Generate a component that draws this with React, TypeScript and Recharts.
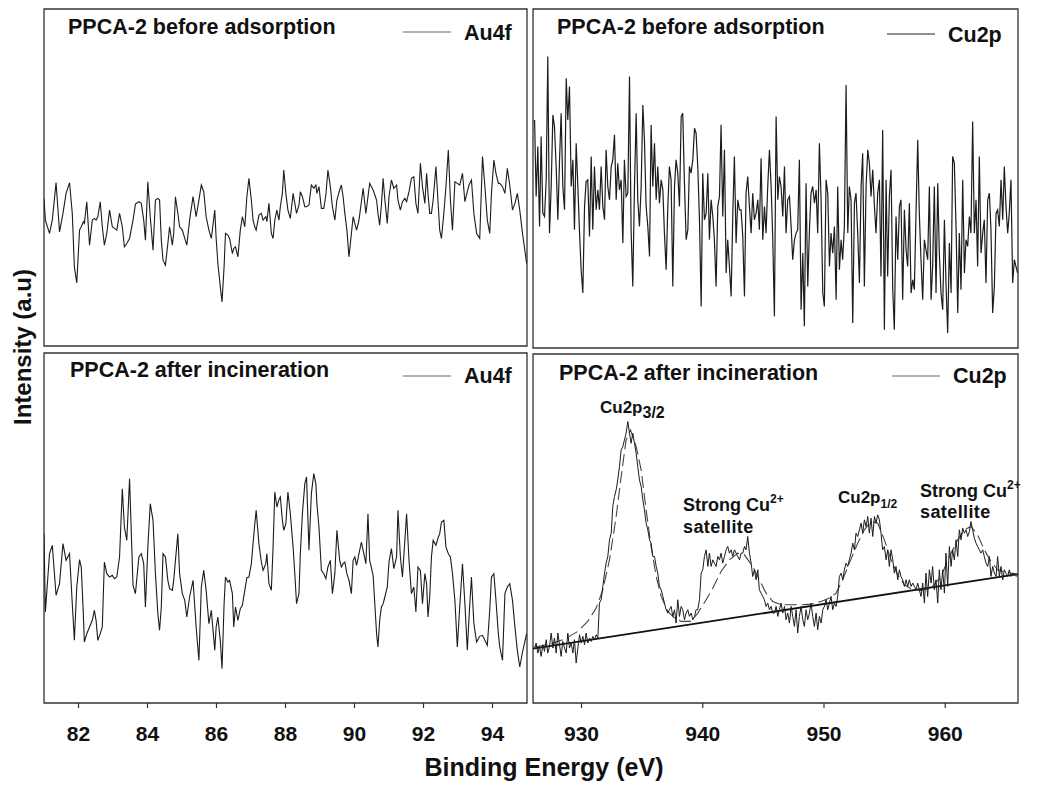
import { LineChart, Line, XAxis, YAxis, ReferenceArea } from 'recharts';

// Au4f scans share one energy grid (eV)
const auEnergy = [
  81.0, 81.04, 81.16, 81.24, 81.35, 81.45, 81.55, 81.64, 81.74, 81.82,
  81.88, 81.95, 82.03, 82.08, 82.14, 82.17, 82.24, 82.32, 82.4, 82.46,
  82.51, 82.56, 82.63, 82.69, 82.75, 82.82, 82.9, 82.98, 83.04, 83.11,
  83.19, 83.27, 83.33, 83.4, 83.48, 83.58, 83.65, 83.75, 83.82, 83.89,
  83.94, 84.01, 84.08, 84.16, 84.23, 84.3, 84.35, 84.4, 84.45, 84.52,
  84.59, 84.64, 84.72, 84.76, 84.81, 84.88, 84.93, 85.01, 85.08, 85.14,
  85.22, 85.32, 85.41, 85.49, 85.56, 85.63, 85.7, 85.78, 85.85, 85.95,
  85.99, 86.04, 86.11, 86.16, 86.22, 86.26, 86.33, 86.38, 86.46, 86.5,
  86.55, 86.62, 86.69, 86.75, 86.82, 86.88, 86.94, 87.01, 87.06, 87.11,
  87.15, 87.23, 87.3, 87.35, 87.43, 87.46, 87.52, 87.59, 87.64, 87.69,
  87.75, 87.81, 87.85, 87.91, 87.95, 88.01, 88.07, 88.14, 88.22, 88.27,
  88.32, 88.39, 88.43, 88.49, 88.56, 88.61, 88.68, 88.75, 88.82, 88.88,
  88.91, 88.97, 89.04, 89.11, 89.17, 89.23, 89.3, 89.36, 89.43, 89.49,
  89.57, 89.62, 89.67, 89.72, 89.78, 89.84, 89.91, 89.96, 90.01, 90.06,
  90.13, 90.2, 90.25, 90.33, 90.39, 90.44, 90.54, 90.64, 90.68, 90.73,
  90.78, 90.83, 90.88, 90.95, 91.0, 91.07, 91.14, 91.22, 91.26, 91.33,
  91.39, 91.46, 91.51, 91.58, 91.65, 91.72, 91.78, 91.84, 91.91, 91.97,
  92.04, 92.09, 92.13, 92.18, 92.23, 92.28, 92.36, 92.43, 92.47, 92.52,
  92.59, 92.65, 92.72, 92.78, 92.84, 92.91, 92.98, 93.05, 93.13, 93.2,
  93.27, 93.32, 93.39, 93.46, 93.54, 93.63, 93.71, 93.78, 93.85, 93.92,
  93.97, 94.04, 94.1, 94.17, 94.21, 94.29, 94.36, 94.43, 94.5, 94.58,
  94.65, 94.72, 94.79, 94.87, 94.99,
];

const auBefore = [
  442, 377, 337, 377, 489, 342, 397, 457, 489, 397,
  237, 189, 347, 357, 372, 367, 432, 302, 377, 382,
  377, 387, 432, 357, 302, 337, 407, 357, 352, 347,
  397, 357, 297, 307, 322, 377, 425, 432, 427, 377,
  317, 492, 387, 287, 437, 442, 437, 317, 257, 242,
  307, 357, 302, 337, 447, 397, 357, 347, 322, 302,
  377, 447, 387, 437, 482, 462, 387, 347, 322, 407,
  322, 247, 177, 132, 237, 337, 332, 322, 277, 292,
  297, 267, 347, 387, 357, 447, 502, 437, 377, 357,
  347, 392, 397, 377, 387, 372, 427, 337, 322, 377,
  407, 377, 417, 457, 527, 457, 407, 382, 457, 427,
  397, 422, 462, 447, 417, 417, 422, 482, 472, 482,
  457, 477, 412, 412, 452, 527, 477, 417, 377, 437,
  467, 482, 447, 397, 347, 267, 337, 387, 367, 347,
  377, 432, 472, 397, 447, 487, 467, 437, 397, 362,
  422, 502, 437, 367, 447, 497, 472, 482, 437, 407,
  432, 442, 432, 462, 502, 507, 427, 397, 547, 477,
  427, 517, 457, 397, 397, 437, 537, 417, 347, 322,
  397, 477, 587, 437, 347, 492, 487, 482, 517, 432,
  462, 482, 497, 397, 337, 322, 567, 477, 377, 337,
  457, 557, 517, 487, 487, 477, 457, 532, 482, 407,
  427, 457, 407, 337, 247,
];

const auAfter = [
  508, 273, 448, 473, 323, 358, 478, 428, 448, 298,
  188, 348, 430, 408, 268, 183, 208, 228, 248, 278,
  248, 188, 208, 228, 423, 388, 378, 383, 373, 378,
  438, 643, 528, 488, 673, 353, 328, 438, 448, 418,
  288, 468, 598, 548, 388, 268, 218, 288, 448, 438,
  368, 343, 338, 368, 428, 508, 388, 328, 308, 258,
  318, 368, 228, 128, 348, 398, 338, 238, 278, 158,
  228, 258, 188, 103, 298, 378, 363, 368, 328, 228,
  288, 248, 283, 293, 338, 376, 378, 418, 478, 538,
  578, 478, 423, 398, 418, 448, 358, 338, 468, 633,
  588, 610, 618, 548, 518, 538, 633, 568, 468, 388,
  298, 328, 448, 568, 658, 678, 458, 628, 688, 658,
  598, 528, 398, 388, 373, 408, 428, 328, 388, 518,
  428, 408, 418, 423, 388, 368, 328, 428, 438, 413,
  448, 483, 458, 418, 568, 428, 383, 208, 168, 248,
  288, 298, 318, 348, 423, 463, 403, 438, 578, 438,
  378, 488, 568, 428, 328, 348, 273, 408, 398, 298,
  388, 358, 258, 318, 438, 488, 473, 498, 508, 543,
  548, 468, 448, 438, 388, 308, 168, 288, 418, 298,
  158, 258, 378, 238, 183, 200, 203, 188, 173, 278,
  378, 388, 308, 208, 168, 128, 328, 348, 358, 308,
  228, 158, 108, 153, 208,
];

// Cu2p scans share one energy grid (eV)
const cuEnergy = [
  926.13, 926.26, 926.4, 926.54, 926.67, 926.81, 926.95, 927.09, 927.22, 927.36,
  927.5, 927.64, 927.77, 927.91, 928.05, 928.19, 928.32, 928.46, 928.6, 928.74,
  928.87, 929.01, 929.15, 929.29, 929.42, 929.56, 929.7, 929.84, 929.97, 930.11,
  930.25, 930.38, 930.52, 930.66, 930.8, 930.93, 931.07, 931.21, 931.35, 931.48,
  931.62, 931.76, 931.9, 932.03, 932.17, 932.31, 932.45, 932.58, 932.72, 932.86,
  932.99, 933.13, 933.27, 933.41, 933.54, 933.68, 933.82, 933.96, 934.09, 934.23,
  934.37, 934.51, 934.64, 934.78, 934.92, 935.06, 935.19, 935.33, 935.47, 935.61,
  935.74, 935.88, 936.02, 936.16, 936.29, 936.43, 936.57, 936.71, 936.84, 936.98,
  937.12, 937.25, 937.39, 937.53, 937.67, 937.8, 937.94, 938.08, 938.22, 938.35,
  938.49, 938.63, 938.77, 938.9, 939.04, 939.18, 939.32, 939.45, 939.59, 939.73,
  939.87, 940.0, 940.14, 940.28, 940.42, 940.55, 940.69, 940.83, 940.96, 941.1,
  941.24, 941.38, 941.51, 941.65, 941.79, 941.93, 942.06, 942.2, 942.34, 942.48,
  942.61, 942.75, 942.89, 943.03, 943.16, 943.3, 943.44, 943.57, 943.71, 943.85,
  943.99, 944.12, 944.26, 944.4, 944.54, 944.67, 944.81, 944.95, 945.09, 945.22,
  945.36, 945.5, 945.64, 945.77, 945.91, 946.05, 946.19, 946.32, 946.46, 946.6,
  946.74, 946.87, 947.01, 947.15, 947.29, 947.42, 947.56, 947.7, 947.83, 947.97,
  948.11, 948.25, 948.38, 948.52, 948.66, 948.8, 948.93, 949.07, 949.21, 949.35,
  949.48, 949.62, 949.76, 949.9, 950.03, 950.17, 950.31, 950.45, 950.58, 950.72,
  950.86, 951.0, 951.13, 951.27, 951.41, 951.54, 951.68, 951.82, 951.96, 952.09,
  952.23, 952.37, 952.51, 952.64, 952.78, 952.92, 953.06, 953.19, 953.33, 953.47,
  953.61, 953.74, 953.88, 954.02, 954.16, 954.29, 954.43, 954.57, 954.7, 954.84,
  954.98, 955.12, 955.25, 955.39, 955.53, 955.67, 955.8, 955.94, 956.08, 956.22,
  956.35, 956.49, 956.63, 956.77, 956.9, 957.04, 957.18, 957.32, 957.45, 957.59,
  957.73, 957.86, 958.0, 958.14, 958.28, 958.41, 958.55, 958.69, 958.83, 958.96,
  959.1, 959.24, 959.38, 959.51, 959.65, 959.79, 959.93, 960.06, 960.2, 960.34,
  960.48, 960.61, 960.75, 960.89, 961.03, 961.16, 961.3, 961.44, 961.58, 961.71,
  961.85, 961.99, 962.12, 962.26, 962.4, 962.54, 962.67, 962.81, 962.95, 963.09,
  963.22, 963.36, 963.5, 963.64, 963.77, 963.91, 964.05, 964.19, 964.32, 964.46,
  964.6, 964.74, 964.87, 965.01, 965.15, 965.28, 965.42, 965.56, 965.7, 965.83,
  965.97,
];

const cuBefore = [
  685, 455, 605, 365, 635, 405, 395, 505, 875, 345,
  485, 700, 665, 545, 385, 565, 705, 485, 415, 810,
  685, 785, 485, 565, 355, 615, 485, 345, 235, 165,
  425, 500, 505, 335, 575, 355, 545, 415, 475, 415,
  545, 425, 385, 595, 485, 445, 545, 565, 640, 445,
  555, 475, 505, 315, 565, 455, 465, 815, 355, 185,
  485, 705, 445, 365, 485, 730, 625, 425, 365, 275,
  670, 485, 615, 445, 545, 435, 505, 475, 345, 235,
  425, 545, 505, 185, 485, 565, 525, 425, 695, 705,
  495, 325, 355, 545, 525, 565, 660, 645, 545, 385,
  125, 525, 385, 405, 525, 325, 445, 395, 325, 185,
  425, 455, 670, 395, 595, 225, 325, 245, 155, 405,
  575, 315, 445, 415, 415, 335, 155, 465, 515, 425,
  345, 465, 385, 405, 445, 355, 570, 325, 425, 345,
  485, 595, 485, 335, 95, 695, 445, 515, 485, 395,
  545, 345, 445, 455, 365, 265, 325, 345, 355, 565,
  115, 285, 65, 495, 185, 355, 465, 485, 435, 475,
  345, 615, 445, 165, 125, 505, 465, 245, 345, 285,
  365, 145, 485, 235, 325, 265, 365, 790, 345, 485,
  445, 75, 435, 465, 345, 195, 485, 585, 185, 485,
  595, 555, 455, 535, 425, 345, 465, 505, 215, 655,
  55, 505, 215, 455, 535, 175, 55, 395, 265, 425,
  445, 145, 415, 295, 245, 435, 165, 205, 175, 405,
  625, 405, 265, 145, 325, 295, 265, 485, 145, 245,
  485, 165, 495, 285, 165, 115, 385, 195, 45, 315,
  165, 575, 555, 365, 105, 345, 175, 505, 225, 325,
  305, 395, 345, 680, 345, 445, 245, 575, 285, 345,
  385, 195, 445, 465, 355, 105, 185, 405, 415, 365,
  505, 385, 545, 425, 345, 405, 505, 195, 265, 245,
  225,
];

const cuAfter = [
  165, 180, 150, 170, 140, 175, 155, 190, 150, 170,
  210, 165, 195, 150, 210, 175, 140, 185, 165, 150,
  210, 165, 180, 150, 190, 120, 165, 205, 180, 200,
  175, 210, 180, 195, 185, 200, 190, 205, 195, 300,
  310, 350, 390, 420, 440, 490, 510, 590, 620, 640,
  670, 710, 760, 770, 790, 810, 845, 810, 780, 810,
  780, 750, 710, 670, 650, 610, 580, 540, 520, 490,
  480, 440, 440, 410, 390, 350, 340, 320, 300, 280,
  270, 280, 290, 260, 280, 240, 310, 260, 290, 280,
  250, 270, 280, 260, 270, 250, 260, 280, 280, 310,
  390, 400, 440, 460, 410, 450, 410, 430, 420, 410,
  440, 430, 450, 420, 440, 460, 470, 450, 460, 440,
  460, 450, 440, 430, 450, 450, 470, 460, 500, 450,
  420, 380, 400, 370, 400, 340, 330, 320, 310, 290,
  300, 280, 290, 270, 270, 290, 260, 280, 300, 270,
  290, 250, 270, 240, 290, 260, 230, 280, 210, 260,
  290, 250, 230, 280, 250, 270, 300, 260, 230, 270,
  220, 260, 240, 280, 290, 310, 280, 300, 320, 280,
  300, 290, 320, 380, 390, 370, 400, 420, 410, 430,
  450, 480, 460, 510, 500, 520, 540, 510, 550, 530,
  560, 510, 555, 500, 560, 540, 565, 550, 510, 460,
  470, 430, 460, 410, 460, 430, 390, 410, 370, 400,
  380, 370, 350, 370, 350, 370, 350, 360, 350, 340,
  360, 340, 320, 360, 300, 390, 320, 400, 360, 410,
  340, 370, 300, 400, 340, 400, 330, 450, 350, 470,
  410, 460, 430, 490, 440, 520, 490, 525, 510, 520,
  500, 515, 545, 520, 495, 480, 470, 460, 450, 460,
  440, 420, 410, 440, 380, 410, 390, 380, 440, 380,
  410, 370, 400, 390, 380, 400, 380, 390, 385, 380,
  385,
];

// fitted envelope and background of the incinerated Cu2p scan
const cuFitEnergy = [
  926.13, 927.5, 928.6, 929.7, 930.52, 931.21, 931.76, 932.31, 932.86, 933.27,
  933.68, 934.04, 934.51, 934.92, 935.33, 935.74, 936.16, 936.57, 937.12, 937.67,
  938.22, 939.04, 939.59, 940.28, 940.83, 941.51, 942.2, 942.89, 943.44, 944.12,
  944.67, 945.22, 945.77, 946.46, 947.29, 948.11, 948.93, 949.76, 950.45, 951.0,
  951.54, 952.09, 952.78, 953.33, 953.88, 954.43, 954.98, 955.53, 956.08, 956.63,
  957.32, 958.0, 958.83, 959.65, 960.34, 961.03, 961.58, 962.12, 962.67, 963.22,
  963.77, 964.32, 965.01, 965.97,
];
const cuFit = [
  168, 178, 192, 215, 245, 285, 340, 430, 560, 680,
  790, 820, 770, 700, 580, 470, 380, 320, 275, 255,
  245, 245, 270, 310, 345, 395, 430, 450, 445, 410,
  370, 330, 305, 295, 295, 295, 297, 305, 315, 330,
  370, 420, 480, 520, 545, 540, 490, 430, 385, 355,
  340, 338, 345, 380, 440, 490, 520, 530, 505, 460,
  425, 400, 392, 387,
];
const cuBgEnergy = [926, 966];
const cuBg = [163, 387];

const auTicks = [82, 84, 86, 88, 90, 92, 94];
const cuTicks = [930, 940, 950, 960];

const FONT = '"Liberation Sans", Arial, sans-serif';

const zip = (xs: number[], ys: number[]) => xs.map((e, i) => ({ e, v: ys[i] }));

interface Series {
  data: { e: number; v: number }[];
  stroke?: string;
  width?: number;
  dash?: string;
}

interface PanelProps {
  left: number;
  top: number;
  width: number;
  height: number;
  domain: [number, number];
  yMax: number;
  ticks?: number[];
  series: Series[];
}

function Panel({ left, top, width, height, domain, yMax, ticks, series }: PanelProps) {
  const axisH = ticks ? 40 : 0;
  return (
    <div style={{ position: 'absolute', left: left - 2, top: top - 2 }}>
      <LineChart width={width + 4} height={height + 4 + axisH} margin={{ top: 2, right: 2, bottom: 2, left: 2 }}>
        <XAxis
          dataKey="e"
          type="number"
          domain={domain}
          allowDataOverflow
          ticks={ticks ?? []}
          interval={0}
          height={axisH}
          tick={ticks ? { fontSize: 21, fontWeight: 700, fill: '#111', fontFamily: FONT } : false}
          tickLine={ticks ? { stroke: '#333', strokeWidth: 1.2 } : false}
          tickSize={5}
          tickMargin={18}
          axisLine={false}
        />
        <YAxis hide type="number" domain={[0, yMax]} allowDataOverflow />
        {/* panel frame */}
        <ReferenceArea
          x1={domain[0]}
          x2={domain[1]}
          y1={0}
          y2={yMax}
          fill="none"
          fillOpacity={0}
          stroke="#333"
          strokeWidth={1.3}
          ifOverflow="visible"
        />
        {series.map((s, i) => (
          <Line
            key={i}
            data={s.data}
            dataKey="v"
            type="linear"
            stroke={s.stroke ?? '#1c1c1c'}
            strokeWidth={s.width ?? 1.1}
            strokeDasharray={s.dash}
            dot={false}
            activeDot={false}
            isAnimationActive={false}
          />
        ))}
      </LineChart>
    </div>
  );
}

function Legend({ x, y, label, dy, stroke }: { x: number; y: number; label: string; dy: number; stroke: string }) {
  return (
    <g>
      <line x1={x} y1={y} x2={x + 48} y2={y} stroke={stroke} strokeWidth={1.2} />
      <text x={x + 61} y={y + dy} fontSize={21.5} fontWeight={700}>{label}</text>
    </g>
  );
}

export default function App() {
  return (
    <div style={{ position: 'absolute', left: 0, top: 0, width: 1041, height: 787, background: '#fff', fontFamily: FONT }}>
      <Panel left={44} top={9} width={483} height={337} domain={[81, 95]} yMax={1009} series={[{ data: zip(auEnergy, auBefore) }]} />
      <Panel left={533} top={9} width={485} height={339} domain={[926, 966]} yMax={1018} series={[{ data: zip(cuEnergy, cuBefore), width: 1.2 }]} />
      <Panel left={44} top={353} width={483} height={350} domain={[81, 95]} yMax={1050} ticks={auTicks} series={[{ data: zip(auEnergy, auAfter) }]} />
      <Panel
        left={533}
        top={354}
        width={485}
        height={349}
        domain={[926, 966]}
        yMax={1048}
        ticks={cuTicks}
        series={[
          { data: zip(cuBgEnergy, cuBg), stroke: '#111', width: 1.8 },
          { data: zip(cuFitEnergy, cuFit), stroke: '#444', width: 1.1, dash: '12 5' },
          { data: zip(cuEnergy, cuAfter), width: 1 },
        ]}
      />
      <svg width={1041} height={787} style={{ position: 'absolute', left: 0, top: 0, pointerEvents: 'none' }} fontFamily={FONT} fill="#111">
        <text x={68} y={34} fontSize={21.5} fontWeight={700}>PPCA-2 before adsorption</text>
        <text x={557} y={34} fontSize={21.5} fontWeight={700}>PPCA-2 before adsorption</text>
        <text x={70} y={377} fontSize={21.5} fontWeight={700}>PPCA-2 after incineration</text>
        <text x={559} y={380} fontSize={21.5} fontWeight={700}>PPCA-2 after incineration</text>
        <Legend x={403} y={32} dy={8} label="Au4f" stroke="#666" />
        <Legend x={887} y={34} dy={8} label="Cu2p" stroke="#222" />
        <Legend x={403} y={376} dy={7} label="Au4f" stroke="#666" />
        <Legend x={892} y={376} dy={7} label="Cu2p" stroke="#666" />

        <text x={600} y={413} fontSize={17} fontWeight={700}>
          Cu2p<tspan fontSize={16} dy={5}>3/2</tspan>
        </text>
        <text x={683} y={511} fontSize={18} fontWeight={700}>
          Strong Cu<tspan fontSize={12} dy={-8}>2+</tspan>
        </text>
        <text x={683} y={533} fontSize={18} fontWeight={700} letterSpacing={0.4}>satellite</text>
        <text x={838} y={503} fontSize={17} fontWeight={700}>
          Cu2p<tspan fontSize={12} dy={5}>1/2</tspan>
        </text>
        <text x={920} y={497} fontSize={18} fontWeight={700}>
          Strong Cu<tspan fontSize={12} dy={-8}>2+</tspan>
        </text>
        <text x={920} y={518} fontSize={18} fontWeight={700} letterSpacing={0.4}>satellite</text>

        <text x={544} y={776} fontSize={25} fontWeight={700} textAnchor="middle">Binding Energy (eV)</text>
        <text transform="translate(31,347) rotate(-90)" fontSize={24} fontWeight={700} textAnchor="middle">Intensity (a.u)</text>
      </svg>
    </div>
  );
}
